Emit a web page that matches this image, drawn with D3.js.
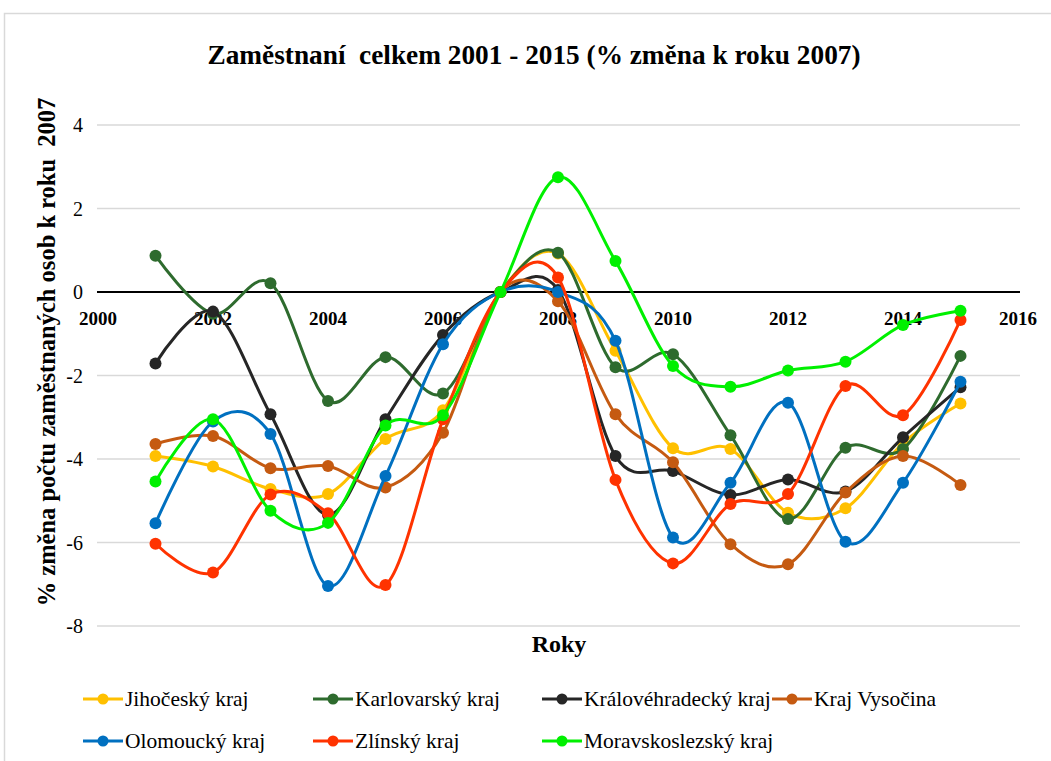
<!DOCTYPE html>
<html>
<head>
<meta charset="utf-8">
<script src="https://cdn.jsdelivr.net/npm/d3@7"></script>
<style>
  body { margin: 0; background: #fff; }
</style>
</head>
<body>
<svg id="chart" width="1051" height="761"></svg>
<script>
(function() {

  // years on the x axis
  const years = [2001, 2002, 2003, 2004, 2005, 2006, 2007, 2008, 2009, 2010, 2011, 2012, 2013, 2014, 2015];

  // % change vs. 2007
  const jihocesky       = [-3.93, -4.18, -4.72, -4.84, -3.52, -2.83, 0, 0.92, -1.41, -3.74, -3.76, -5.29, -5.18, -3.62, -2.67];
  const karlovarsky     = [0.87, -0.52, 0.21, -2.61, -1.56, -2.43, 0, 0.94, -1.80, -1.49, -3.43, -5.44, -3.73, -3.76, -1.53];
  const kralovehradecky = [-1.71, -0.47, -2.93, -5.34, -3.05, -1.03, 0, 0.05, -3.93, -4.29, -4.86, -4.49, -4.78, -3.48, -2.28];
  const vysocina        = [-3.64, -3.45, -4.22, -4.17, -4.68, -3.37, 0, -0.22, -2.93, -4.08, -6.04, -6.52, -4.80, -3.93, -4.62];
  const olomoucky       = [-5.54, -3.10, -3.40, -7.04, -4.41, -1.25, 0, 0.0, -1.17, -5.88, -4.57, -2.65, -5.98, -4.57, -2.15];
  const zlinsky         = [-6.03, -6.72, -4.85, -5.30, -7.02, -3.05, 0, 0.35, -4.50, -6.50, -5.08, -4.84, -2.25, -2.95, -0.67];
  const moravskoslezsky = [-4.54, -3.05, -5.24, -5.53, -3.20, -2.95, 0, 2.75, 0.74, -1.77, -2.27, -1.88, -1.67, -0.79, -0.45];

  const seriesNames  = ["Jihočeský kraj", "Karlovarský kraj", "Královéhradecký kraj", "Kraj Vysočina",
                        "Olomoucký kraj", "Zlínský kraj", "Moravskoslezský kraj"];
  const seriesValues = [jihocesky, karlovarsky, kralovehradecky, vysocina, olomoucky, zlinsky, moravskoslezsky];
  const seriesColors = ["#FFC000", "#2E6B2E", "#262626", "#C55A11", "#0070C0", "#FF3300", "#00F000"];

  const xTicks = [2000, 2002, 2004, 2006, 2008, 2010, 2012, 2014, 2016];
  const yTicks = [4, 2, 0, -2, -4, -6, -8];

  const svg = d3.select("#chart")
    .attr("font-family", "'Liberation Serif', 'Times New Roman', serif");

  // chart area frame
  svg.append("rect")
    .attr("x", 4.5).attr("y", 13.5)
    .attr("width", 1060).attr("height", 760)
    .attr("fill", "#fff")
    .attr("stroke", "#d9d9d9")
    .attr("stroke-width", 1.5);

  const x = d3.scaleLinear().domain([2000, 2016]).range([98, 1018]);
  const y = d3.scaleLinear().domain([-8, 4]).range([626, 125]);

  // title
  svg.append("text")
    .attr("x", 534).attr("y", 64)
    .attr("text-anchor", "middle")
    .attr("font-size", 27.3).attr("font-weight", "bold")
    .attr("xml:space", "preserve")
    .text("Zaměstnaní  celkem 2001 - 2015 (% změna k roku 2007)");

  // gridlines
  svg.append("g")
    .selectAll("line")
    .data(yTicks.filter(d => d !== 0))
    .enter()
    .append("line")
    .attr("x1", 97).attr("x2", 1020)
    .attr("y1", d => y(d)).attr("y2", d => y(d))
    .attr("stroke", "#d9d9d9")
    .attr("stroke-width", 1.5);

  // y tick labels
  svg.append("g")
    .selectAll("text")
    .data(yTicks)
    .enter()
    .append("text")
    .attr("x", 83).attr("y", d => y(d) + 7)
    .attr("text-anchor", "end")
    .attr("font-size", 20)
    .text(d => d);

  // zero line
  svg.append("line")
    .attr("x1", 97).attr("x2", 1020)
    .attr("y1", y(0)).attr("y2", y(0))
    .attr("stroke", "#000")
    .attr("stroke-width", 2);

  // x tick labels (bold, sitting just under the zero line)
  svg.append("g")
    .selectAll("text")
    .data(xTicks)
    .enter()
    .append("text")
    .attr("x", d => x(d)).attr("y", y(0) + 33)
    .attr("text-anchor", "middle")
    .attr("font-size", 19).attr("font-weight", "bold")
    .text(d => d);

  // axis titles
  svg.append("text")
    .attr("transform", "translate(55,352) rotate(-90)")
    .attr("text-anchor", "middle")
    .attr("font-size", 24.5).attr("font-weight", "bold")
    .attr("xml:space", "preserve")
    .text("% změna počtu zaměstnaných osob k roku  2007");

  svg.append("text")
    .attr("x", 559).attr("y", 652)
    .attr("text-anchor", "middle")
    .attr("font-size", 24).attr("font-weight", "bold")
    .text("Roky");

  // series
  const line = d3.line()
    .x((d, i) => x(years[i]))
    .y(d => y(d))
    .curve(d3.curveCardinal.tension(0));

  const plot = svg.append("g");
  seriesValues.forEach((vals, s) => {
    const g = plot.append("g");
    g.append("path")
      .attr("d", line(vals))
      .attr("fill", "none")
      .attr("stroke", seriesColors[s])
      .attr("stroke-width", 3);
    g.selectAll("circle")
      .data(vals)
      .enter()
      .append("circle")
      .attr("cx", (d, i) => x(years[i]))
      .attr("cy", d => y(d))
      .attr("r", 6)
      .attr("fill", seriesColors[s]);
  });

  // legend
  const legendX = [83, 313, 542, 772];
  const legendY = [699, 741];
  const legend = svg.append("g");
  seriesNames.forEach((name, i) => {
    const lx = legendX[i % 4], ly = legendY[Math.floor(i / 4)];
    const item = legend.append("g");
    item.append("line")
      .attr("x1", lx).attr("x2", lx + 40)
      .attr("y1", ly).attr("y2", ly)
      .attr("stroke", seriesColors[i])
      .attr("stroke-width", 3);
    item.append("circle")
      .attr("cx", lx + 20).attr("cy", ly)
      .attr("r", 5.5)
      .attr("fill", seriesColors[i]);
    item.append("text")
      .attr("x", lx + 42).attr("y", ly + 7)
      .attr("font-size", 21.5)
      .text(name);
  });

})();
</script>
</body>
</html>
